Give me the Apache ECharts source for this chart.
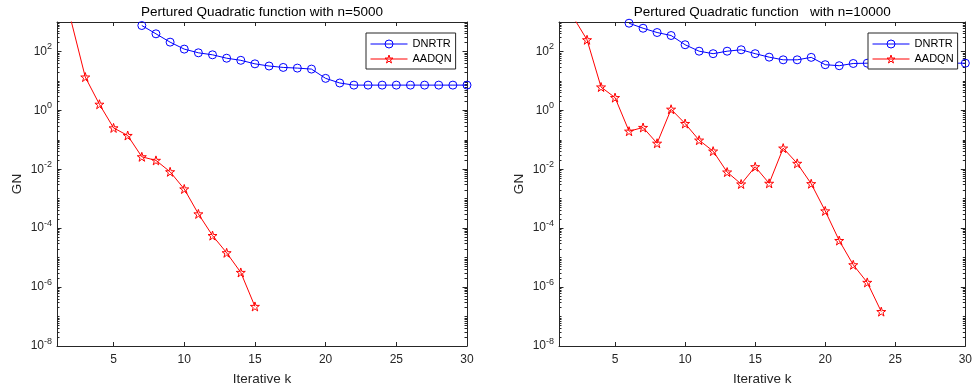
<!DOCTYPE html>
<html>
<head>
<meta charset="utf-8">
<script src="https://cdn.jsdelivr.net/npm/echarts@6/dist/echarts.min.js"></script>
<style>
  html, body { margin: 0; padding: 0; background: #fff; }
  #chart { width: 975px; height: 392px; }
</style>
</head>
<body>
<div id="chart"></div>
<script>
// Gradient norm per iteration
const kLeftDNRTR = [7, 8, 9, 10, 11, 12, 13, 14, 15, 16, 17, 18, 19, 20, 21, 22, 23, 24, 25, 26, 27, 28, 29, 30];
const gnLeftDNRTR = [759, 397, 207, 120, 90, 77, 59, 50, 38, 32, 28.7, 27.2, 25.2, 12.2, 8.5, 7.2, 7.2, 7.2, 7.2, 7.2, 7.2, 7.2, 7.2, 7.2];
const kLeftAADQN = [2, 3, 4, 5, 6, 7, 8, 9, 10, 11, 12, 13, 14, 15];
const gnLeftAADQN = [1100, 13.5, 1.61, 0.254, 0.140, 0.0265, 0.0200, 0.0082, 0.00214, 3.05e-4, 5.6e-5, 1.46e-5, 3.14e-6, 2.2e-7];

const kRightDNRTR = [6, 7, 8, 9, 10, 11, 12, 13, 14, 15, 16, 17, 18, 19, 20, 21, 22, 23, 24, 25, 26, 27, 28, 29, 30];
const gnRightDNRTR = [910, 614, 439, 348, 169, 102, 84, 102, 114, 84, 64, 52, 52, 63, 35.5, 32.8, 39, 40, 40, 40, 40, 40, 40, 40, 40];
const kRightAADQN = [2, 3, 4, 5, 6, 7, 8, 9, 10, 11, 12, 13, 14, 15, 16, 17, 18, 19, 20, 21, 22, 23, 24];
const gnRightAADQN = [1510, 249, 6.2, 2.71, 0.196, 0.262, 0.0764, 1.09, 0.357, 0.0973, 0.0413, 0.00804, 0.00316, 0.01216, 0.00333, 0.0522, 0.01585, 0.00323, 3.85e-4, 3.8e-5, 5.7e-6, 1.44e-6, 1.47e-7];

const xTicks = [5, 10, 15, 20, 25, 30];
const titles = ['Pertured Quadratic function with n=5000', 'Pertured Quadratic function   with n=10000'];
const seriesNames = ['DNRTR', 'AADQN'];
const seriesColors = { DNRTR: '#0000ff', AADQN: '#ff0000' };

const FONT = 'Liberation Sans, Arial, Helvetica, sans-serif';
const AX = '#262626';

// log-style minor ticks (2..9 x 10^n, plus the unlabeled odd decades), in exponent units
const minorTicks = [];
for (let n = -8; n <= 2; n++) {
  if (n % 2 !== 0) minorTicks.push(n);
  for (let m = 2; m <= 9; m++) minorTicks.push(n + Math.log10(m));
}

// pentagram outline for the AADQN markers
let star = 'path://';
for (let i = 0; i < 10; i++) {
  const r = i % 2 === 0 ? 50 : 19.1;
  const a = -Math.PI / 2 + i * Math.PI / 5;
  star += (i === 0 ? 'M' : 'L') + (50 + r * Math.cos(a)).toFixed(2) + ',' + (50 + r * Math.sin(a)).toFixed(2);
}
star += 'Z';
const symbolOf = name => (name === 'AADQN' ? star : 'circle');
const hollow = c => ({ color: 'rgba(255,255,255,0)', borderColor: c, borderWidth: 1 });

const pair = (ks, vs) => ks.map((k, i) => [k, vs[i]]);

const grids = [
  { left: 57, right: 508, top: 21, bottom: 46 },
  { left: 559, right: 6, top: 21, bottom: 46 }
];

const xAxis = [];
const yAxis = [];
grids.forEach((g, gi) => {
  xAxis.push({
    gridIndex: gi, type: 'value', position: 'bottom', min: 1, max: 30,
    name: 'Iterative k', nameLocation: 'middle', nameGap: 26,
    nameTextStyle: { fontFamily: FONT, fontSize: 13.5, color: AX },
    axisLine: { onZero: false, lineStyle: { color: AX, width: 1 } },
    axisTick: { inside: true, length: 4, customValues: xTicks, lineStyle: { color: AX } },
    axisLabel: { customValues: xTicks, margin: 8, fontFamily: FONT, fontSize: 12, color: AX },
    splitLine: { show: false }
  });
  xAxis.push({
    gridIndex: gi, type: 'value', position: 'top', min: 1, max: 30,
    name: titles[gi], nameLocation: 'middle', nameGap: 3,
    nameTextStyle: { fontFamily: FONT, fontSize: 13.5, color: '#000' },
    axisLine: { onZero: false, lineStyle: { color: AX, width: 1 } },
    axisTick: { inside: true, length: 4, customValues: xTicks, lineStyle: { color: AX } },
    axisLabel: { show: false },
    splitLine: { show: false }
  });
  ['left', 'right'].forEach(pos => {
    yAxis.push({
      gridIndex: gi, type: 'log', logBase: 10, position: pos, min: 1e-8, max: 1e3, interval: 2,
      name: pos === 'left' ? 'GN' : '', nameLocation: 'middle', nameGap: 33,
      nameTextStyle: { fontFamily: FONT, fontSize: 13.5, color: AX },
      axisLine: { onZero: false, lineStyle: { color: AX, width: 1 } },
      axisTick: { inside: true, length: 4.5, lineStyle: { color: AX } },
      axisLabel: {
        show: pos === 'left', showMaxLabel: false, margin: 5,
        formatter: v => '{b|10}{s|' + Math.round(Math.log10(v)) + '}',
        rich: {
          b: { fontFamily: FONT, fontSize: 12, color: AX, lineHeight: 18 },
          s: { fontFamily: FONT, fontSize: 9, color: AX, lineHeight: 10, verticalAlign: 'top' }
        }
      },
      splitLine: { show: false }
    });
  });
  ['left', 'right'].forEach(pos => {
    yAxis.push({
      gridIndex: gi, type: 'value', position: pos, min: -8, max: 3,
      axisLine: { show: false, onZero: false },
      axisTick: { inside: true, length: 2.5, customValues: minorTicks, lineStyle: { color: AX } },
      axisLabel: { show: false },
      splitLine: { show: false }
    });
  });
});

const lineSeries = (name, data, gi) => {
  const c = seriesColors[name];
  return {
    name, type: 'line', data, xAxisIndex: gi * 2, yAxisIndex: gi * 4,
    symbol: symbolOf(name), symbolSize: name === 'AADQN' ? 9 : 8,
    showAllSymbol: true, clip: true, animation: false,
    lineStyle: { color: c, width: 1 },
    itemStyle: hollow(c)
  };
};

const series = [
  lineSeries('DNRTR', pair(kLeftDNRTR, gnLeftDNRTR), 0),
  lineSeries('AADQN', pair(kLeftAADQN, gnLeftAADQN), 0),
  lineSeries('DNRTR', pair(kRightDNRTR, gnRightDNRTR), 1),
  lineSeries('AADQN', pair(kRightAADQN, gnRightAADQN), 1)
];

const legendAt = (left, top) => ({
  data: seriesNames.map(name => ({
    name,
    itemStyle: hollow(seriesColors[name]),
    lineStyle: { color: seriesColors[name], width: 1 }
  })),
  orient: 'vertical', left, top,
  padding: [5, 4, 4, 4], itemGap: 3, itemWidth: 37, itemHeight: 10,
  backgroundColor: '#fff', borderColor: AX, borderWidth: 1, borderRadius: 0,
  selectedMode: false,
  textStyle: { fontFamily: FONT, fontSize: 11, color: '#000', lineHeight: 12 }
});

const chart = echarts.init(document.getElementById('chart'), null, { renderer: 'canvas' });
chart.setOption({
  animation: false,
  backgroundColor: '#fff',
  grid: grids,
  xAxis,
  yAxis,
  legend: [legendAt(366, 33), legendAt(868, 33)],
  series
});
</script>
</body>
</html>
